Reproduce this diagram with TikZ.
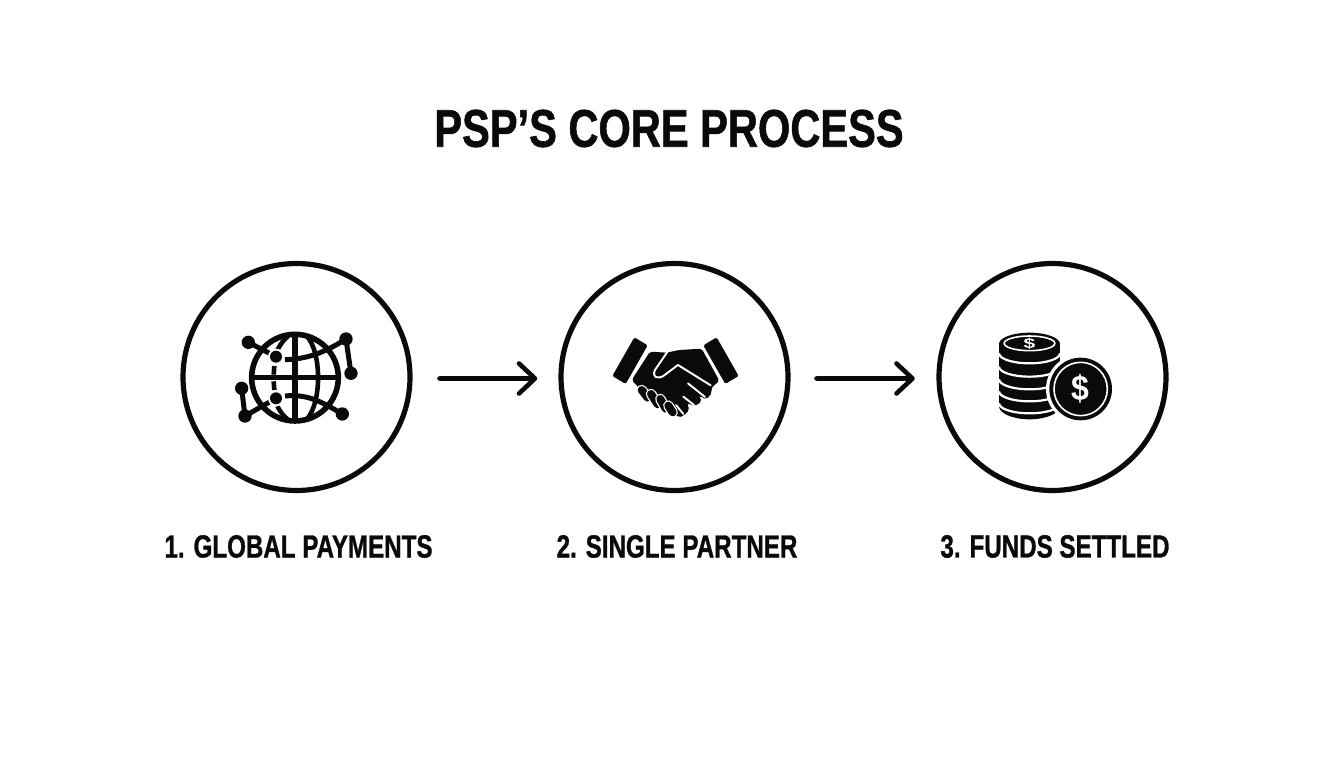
\documentclass[tikz,border=0pt]{standalone}
\usepackage{fontspec}
\setmainfont{Liberation Sans}
\newfontfamily\heavy[FakeBold=1.2]{Liberation Sans Bold}
\begin{document}
\begin{tikzpicture}[x=1pt,y=-1pt,
  ring/.style={circle,draw=ink,line width=5.2pt,minimum size=227pt,inner sep=0pt},
  flow/.style={draw=ink,line width=4.6pt,line cap=round,line join=round},
  lab/.style={font=\heavy\fontsize{32}{34}\selectfont,text=ink,inner sep=0pt,xscale=.755},
  ttl/.style={font=\heavy\fontsize{53}{56}\selectfont,text=ink,inner sep=0pt,xscale=.785},
  ico/.style={draw=ink,line width=5.6pt},
  thin/.style={draw=ink,line width=4.6pt},
  dot/.style={fill=ink,draw=none},
  cut/.style={draw=white,line width=1.9pt,line cap=round,line join=round},
  finger/.style={draw=ink,line width=8pt,line cap=round,preaction={draw=white,line width=10.5pt,line cap=round}}]
\definecolor{ink}{HTML}{0A0A0A}
\useasboundingbox (0,0) rectangle (1344,768);
\fill[white] (0,0) rectangle (1344,768);
\node[ttl] (title) at (669,128.5) {PSP’S CORE PROCESS};
\node[ring] (c1) at (296.5,377) {};
\node[ring] (c2) at (674.5,377) {};
\node[ring] (c3) at (1052.5,377) {};
\node[lab] (l1) at (298.5,546.5) {1. GLOBAL PAYMENTS};
\node[lab] (l2) at (677,546.5) {2. SINGLE PARTNER};
\node[lab] (l3) at (1055,546.5) {3. FUNDS SETTLED};
\coordinate (a1s) at (439.5,378.5);
\coordinate (a1e) at (535,378.5);
\coordinate (a2s) at (816.5,378.5);
\coordinate (a2e) at (912.5,378.5);
\draw[flow] (a1s) -- (a1e) (a1e) ++(-16,-15) -- (a1e) -- ++(-16,15);
\draw[flow] (a2s) -- (a2e) (a2e) ++(-16,-15) -- (a2e) -- ++(-16,15);
% globe
\begin{scope}[shift={(220,310)},x=.3333pt,y=-.3333pt]
\draw[ico] (225,203) circle (130);
\draw[ico] (95,203) -- (355,203) (225,73) -- (225,333);
\draw[thin] (262,80) .. controls (305,130) and (305,275) .. (262,326);
\draw[thin] (205,78) .. controls (190,90) and (180,105) .. (172,120);
\draw[thin] (205,330) .. controls (190,318) and (180,305) .. (172,288);
\draw[thin] (163,168) -- (161,194) (161,214) -- (163,240);
\draw[ico,line width=5pt] (85,97) -- (168,140) (195,149) .. controls (260,147) and (310,130) .. (378,87) -- (393,190);
\draw[ico,line width=5pt] (65,235) -- (75,318) -- (168,265) (195,258) .. controls (260,252) and (300,272) .. (367,312);
\foreach \p in {(85,97),(378,87),(393,190),(65,235),(75,318),(367,312)} \fill[dot] \p circle (20);
\foreach \p in {(168,140),(168,265)} {\fill[white] \p circle (24); \fill[dot] \p circle (18);}
\end{scope}
% handshake
\begin{scope}[shift={(600,320)},x=.3333pt,y=-.3333pt]
\fill[dot,rounded corners=1.5pt] (103,52) -- (143,76) -- (77,192) -- (37,168) -- cycle;
\fill[dot,rounded corners=1.5pt] (350,52) -- (310,76) -- (376,192) -- (416,168) -- cycle;
\fill[dot,rounded corners=2pt] (150,95) -- (200,98) -- (238,90) -- (305,86) -- (358,182) -- (333,205) -- (336,218) -- (320,238) -- (298,228) -- (305,245) -- (285,258) -- (262,250) -- (268,270) -- (250,288) -- (235,292) -- (190,250) -- (118,205) -- (95,180) -- cycle;
\draw[cut] (206,90) -- (165,150) .. controls (155,172) and (172,178) .. (190,168) -- (234,135) -- (332,196);
\draw[cut] (264,190) -- (315,231) (250,230) -- (282,255) (228,255) -- (250,282);
\foreach \a/\b/\c/\d in {125/210/143/233,153/222/173/253,181/237/197/266,205/257/218/277}
  \draw[finger] (\a,\b) -- (\c,\d);
\end{scope}
% coins
\begin{scope}[shift={(985,320)},x=.3333pt,y=-.3333pt]
\fill[dot] (42,72) rectangle (225,258);
\fill[dot] (133.5,258) ellipse (91.5 and 40);
\fill[dot] (133.5,72) ellipse (91.5 and 34);
\foreach \y in {100,140,178,214,250}
  \draw[white,line width=2.2pt] (42,\y) arc[start angle=180,end angle=0,x radius=91.5,y radius=30];
\draw[white,line width=1.6pt] (133.5,70) ellipse (76 and 22);
\node[text=white,font=\bfseries\fontsize{14}{14}\selectfont,xscale=1.5,inner sep=0pt] (d1) at (133,70) {\$};
\fill[white] (287,207) circle (104);
\fill[dot] (287,207) circle (94);
\draw[white,line width=1.6pt] (287,207) circle (80);
\node[text=white,font=\bfseries\fontsize{32}{32}\selectfont,inner sep=0pt,yscale=1.1] (d2) at (287,207) {\$};
\end{scope}
\end{tikzpicture}
\end{document}
